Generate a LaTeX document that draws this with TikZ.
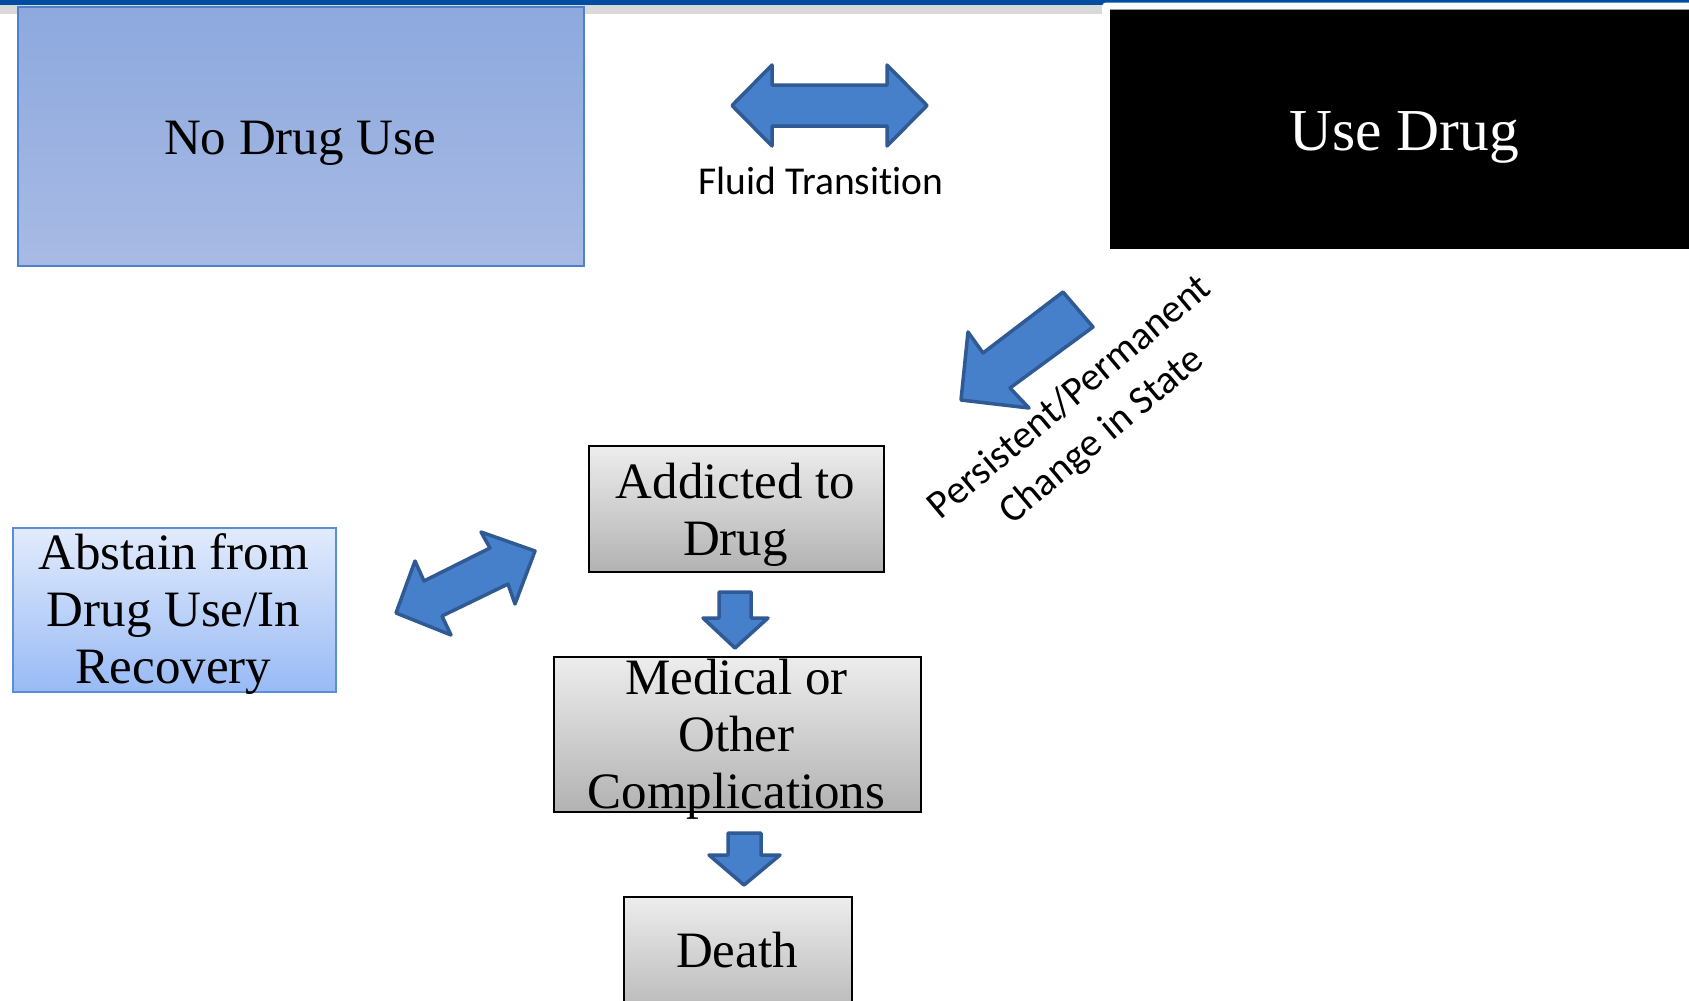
\documentclass[tikz,border=0pt]{standalone}
\usepackage{fontspec}
\setmainfont{Liberation Serif}
\newfontfamily\calib[Ligatures=NoCommon]{Carlito}
\definecolor{topblue}{RGB}{0,78,162}
\definecolor{stripgrey}{RGB}{217,217,217}
\definecolor{arrowfill}{RGB}{70,127,202}
\definecolor{arrowline}{RGB}{48,90,148}
\definecolor{ndtop}{RGB}{141,169,222}
\definecolor{ndbot}{RGB}{168,186,228}
\definecolor{ndline}{RGB}{77,128,205}
\definecolor{abtop}{RGB}{226,235,252}
\definecolor{abbot}{RGB}{152,186,245}
\definecolor{abline}{RGB}{90,143,216}
\definecolor{gtop}{RGB}{237,237,237}
\definecolor{gbot}{RGB}{178,178,178}
\begin{document}
\begin{tikzpicture}[x=1pt,y=-1pt,
  arrowshape/.style={fill=arrowfill, draw=arrowline, line width=3.5pt, line join=round},
  boxbase/.style={rectangle, inner sep=0pt, anchor=north west},
  graybox/.style={boxbase, draw=black, line width=2pt, top color=gtop, bottom color=gbot},
  seriftext/.style={font=\fontsize{51}{57}\selectfont, anchor=base, inner sep=0pt},
  sanstext/.style={font=\calib\fontsize{39.5}{50}\selectfont, anchor=base, inner sep=0pt}
]
\useasboundingbox (0,0) rectangle (1689,1001);
\fill[white] (0,0) rectangle (1689,1001);

% top banner
\fill[topblue] (0,0) rectangle (1689,2.5);
\fill[topblue] (0,0) rectangle (1108,5);
\fill[stripgrey] (0,5) rectangle (1102,14);
\fill[white, rounded corners=4pt] (1102,2.5) rectangle (1700,30);
\draw[stripgrey!70!black, line width=1pt] (1110,9.5) -- (1689,9.5);

% boxes
\node[boxbase, draw=ndline, line width=2pt, top color=ndtop, bottom color=ndbot,
      minimum width=566pt, minimum height=259pt] (nodrug) at (17,6) {};
\node[seriftext] (nodrugtext) at (300,154) {No Drug Use};

\node[boxbase, fill=black, minimum width=580pt, minimum height=239pt] (usedrug) at (1110,10) {};
\node[seriftext, text=white, font=\fontsize{59.5}{66}\selectfont] (usedrugtext) at (1404,150) {Use Drug};

\node[boxbase, draw=abline, line width=2pt, top color=abtop, bottom color=abbot,
      minimum width=323pt, minimum height=164pt] (abstain) at (12,527) {};
\node[seriftext] (abstaintext) at (173.5,569)
  {\begin{tabular}[t]{@{}c@{}}Abstain from\\Drug Use/In\\Recovery\end{tabular}};

\node[graybox, minimum width=295pt, minimum height=126pt] (addicted) at (588,445) {};
\node[seriftext] (addictedtext) at (735.5,498)
  {\begin{tabular}[t]{@{}c@{}}Addicted to\\Drug\end{tabular}};

\node[graybox, minimum width=367pt, minimum height=155pt] (medical) at (553,656) {};
\node[seriftext] (medicaltext) at (736.5,694)
  {\begin{tabular}[t]{@{}c@{}}Medical or\\Other\\Complications\end{tabular}};

\node[graybox, minimum width=228pt, minimum height=130pt] (death) at (623,896) {};
\node[seriftext] (deathtext) at (737,967) {Death};

% block arrows
\draw[arrowshape] (732,105.5) -- (772,65) -- (772,85) -- (887,85) -- (887,65)
  -- (927,105.5) -- (887,146) -- (887,126) -- (772,126) -- (772,146) -- cycle;
\node[sanstext] (fluid) at (821,194) {Fluid Transition};

\draw[arrowshape] (1063,292) -- (1093,327) -- (1010,388) -- (1029,408)
  -- (961,400) -- (968,332) -- (983,353) -- cycle;
\node[sanstext, font=\calib\fontsize{40}{50}\selectfont, rotate=40] (persist) at (1077,406)
  {\begin{tabular}[t]{@{}c@{}}Persistent/Permanent\\Change in State\end{tabular}};

\draw[arrowshape] (396,613) -- (415,561) -- (424,581) -- (490,548) -- (481,532)
  -- (535,551) -- (515,604) -- (508,584) -- (442,616) -- (451,635) -- cycle;

\draw[arrowshape] (719,592) -- (751,592) -- (751,618) -- (768,618) -- (735,648)
  -- (703,618) -- (719,618) -- cycle;

\draw[arrowshape] (728,833) -- (761,833) -- (761,855) -- (780,855) -- (744,885)
  -- (709,855) -- (728,855) -- cycle;
\end{tikzpicture}
\end{document}
